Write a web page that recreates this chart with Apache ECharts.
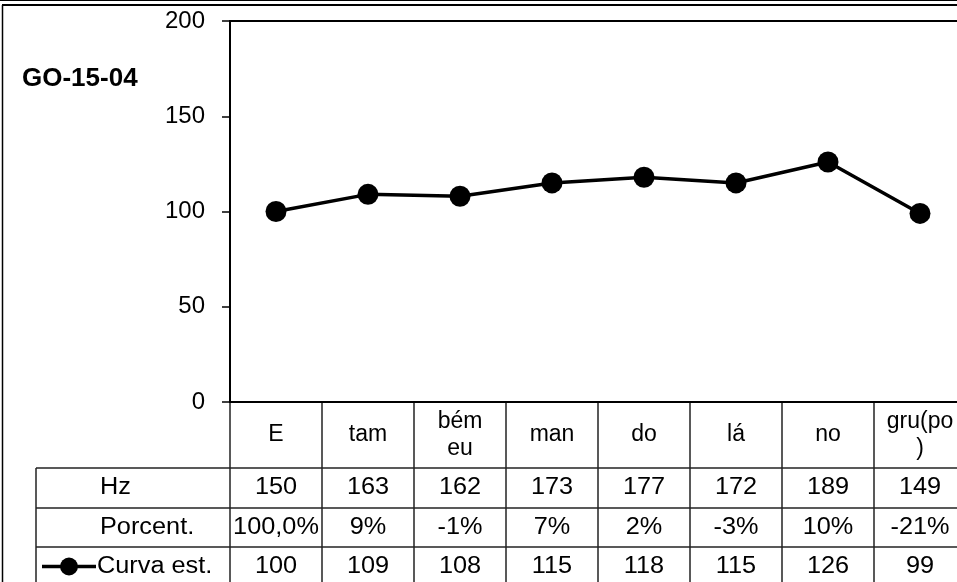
<!DOCTYPE html>
<html>
<head>
<meta charset="utf-8">
<script src="https://cdn.jsdelivr.net/npm/echarts@6/dist/echarts.min.js"></script>
<style>
  html, body { margin: 0; padding: 0; overflow: hidden; background: #fff; }
  #chart { width: 980px; height: 582px; }
</style>
</head>
<body>
<div id="chart"></div>
<script>
// dados do gráfico
const categories = ['E', 'tam', 'bém\neu', 'man', 'do', 'lá', 'no', 'gru(po\n)'];
const hzValues = [150, 163, 162, 173, 177, 172, 189, 149];
const porcentLabels = ['100,0%', '9%', '-1%', '7%', '2%', '-3%', '10%', '-21%'];
const curvaValues = [100, 109, 108, 115, 118, 115, 126, 99];
const rowNames = ['Hz', 'Porcent.', 'Curva est.'];
const title = 'GO-15-04';

const font = '"Liberation Sans", Arial, sans-serif';
const chart = echarts.init(document.getElementById('chart'));

chart.setOption({
    animation: false,
    backgroundColor: '#fff',
    grid: {
        left: 230,
        top: 21,
        width: 736,
        height: 381,
        show: true,
        borderColor: '#000',
        borderWidth: 2,
        containLabel: false
    },
    xAxis: {
        type: 'category',
        data: categories,
        boundaryGap: true,
        axisLine: { lineStyle: { color: '#000', width: 2 } },
        axisTick: { show: false },
        axisLabel: {
            margin: 33,
            verticalAlign: 'middle',
            lineHeight: 27,
            fontSize: 23,
            fontFamily: font,
            color: '#000',
            interval: 0
        },
        splitLine: { show: false }
    },
    yAxis: {
        type: 'value',
        min: 0,
        max: 200,
        interval: 50,
        axisLine: { show: true, lineStyle: { color: '#000', width: 2 } },
        axisTick: { show: true, length: 8, lineStyle: { color: '#000', width: 1.5 } },
        axisLabel: { margin: 25, fontSize: 24, fontFamily: font, color: '#000' },
        splitLine: { show: false }
    },
    series: [{
        name: 'Curva est.',
        type: 'line',
        data: curvaValues,
        symbol: 'circle',
        symbolSize: 21,
        lineStyle: { color: '#000', width: 3.5 },
        itemStyle: { color: '#000' }
    }]
});

// texto da tabela, um pouco esticado na horizontal como no original
function cellText(text, x, y, align) {
    return {
        type: 'text',
        x: x, y: y,
        scaleX: 1.1,
        style: { text: text, x: 0, y: 0, fill: '#000', font: '23px ' + font,
            textAlign: align, textVerticalAlign: 'middle' }
    };
}

// tabela de dados abaixo do gráfico
function buildTable() {
    const els = [];
    const lineColor = '#222';
    const headTop = 402;
    const rowTops = [468, 508, 547, 586];
    const xs = categories.map((c, i) => chart.convertToPixel({ xAxisIndex: 0 }, i));
    const half = (xs[1] - xs[0]) / 2;
    const left = 36;
    const right = xs[xs.length - 1] + half;

    // linhas horizontais
    rowTops.slice(0, 3).forEach(y => {
        els.push({ type: 'line', shape: { x1: left, y1: y, x2: right, y2: y },
            style: { stroke: lineColor, lineWidth: 1.5 } });
    });
    // linhas verticais
    els.push({ type: 'line', shape: { x1: left, y1: rowTops[0], x2: left, y2: 600 },
        style: { stroke: lineColor, lineWidth: 1.5 } });
    xs.forEach(x => {
        els.push({ type: 'line', shape: { x1: x - half, y1: headTop, x2: x - half, y2: 600 },
            style: { stroke: lineColor, lineWidth: 1.5 } });
    });
    els.push({ type: 'line', shape: { x1: right, y1: headTop, x2: right, y2: 600 },
        style: { stroke: lineColor, lineWidth: 1.5 } });

    const rows = [hzValues, porcentLabels, curvaValues];
    rows.forEach((vals, r) => {
        const cy = (rowTops[r] + rowTops[r + 1]) / 2;
        els.push(cellText(rowNames[r], r === 2 ? 97 : 100, cy, 'left'));
        vals.forEach((v, i) => {
            els.push(cellText(String(v), xs[i], cy, 'center'));
        });
    });

    // chave da legenda
    const ky = (rowTops[2] + rowTops[3]) / 2;
    els.push({ type: 'line', shape: { x1: 42, y1: ky, x2: 96, y2: ky }, style: { stroke: '#000', lineWidth: 3.5 } });
    els.push({ type: 'circle', shape: { cx: 69, cy: ky, r: 9 }, style: { fill: '#000' } });

    // título
    els.push({ type: 'text', style: { text: title, x: 22, y: 79, fill: '#000',
        font: 'bold 26px ' + font, textAlign: 'left', textVerticalAlign: 'middle' } });

    // moldura
    els.push({ type: 'line', shape: { x1: 0, y1: 0.5, x2: 980, y2: 0.5 }, style: { stroke: '#000', lineWidth: 1 } });
    els.push({ type: 'line', shape: { x1: 2, y1: 5, x2: 980, y2: 5 }, style: { stroke: '#000', lineWidth: 2 } });
    els.push({ type: 'line', shape: { x1: 2.5, y1: 5, x2: 2.5, y2: 600 }, style: { stroke: '#000', lineWidth: 1.5 } });

    chart.setOption({ graphic: els });
}
buildTable();
</script>
</body>
</html>
